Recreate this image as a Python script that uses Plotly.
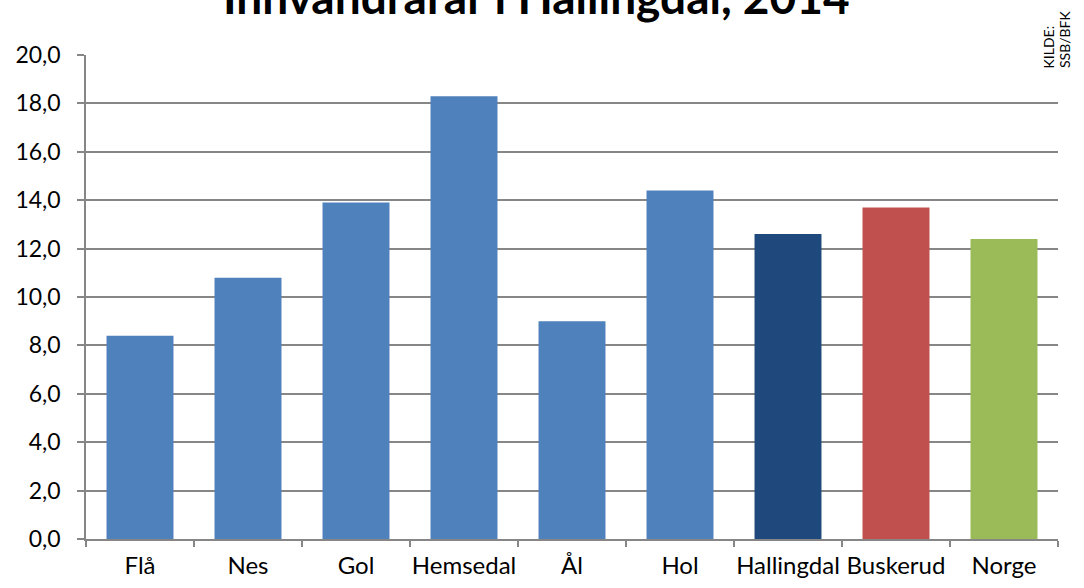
import plotly.graph_objects as go

categories = ["Flå", "Nes", "Gol", "Hemsedal", "Ål", "Hol", "Hallingdal", "Buskerud", "Norge"]
values = [8.4, 10.8, 13.9, 18.3, 9.0, 14.4, 12.6, 13.7, 12.4]
colors = ["#4F81BD"] * 6 + ["#1F497D", "#C0504D", "#9BBB59"]
y_ticks = [0, 2, 4, 6, 8, 10, 12, 14, 16, 18, 20]

FONT = "Lato, 'Open Sans', sans-serif"
GRID = "#868686"

fig = go.Figure(
    go.Bar(x=categories, y=values, marker=dict(color=colors, line=dict(width=0)))
)

fig.update_layout(
    width=1084, height=588,
    margin=dict(l=86, r=26, t=55, b=49, autoexpand=False),
    paper_bgcolor="white", plot_bgcolor="white",
    separators=", ",
    bargap=0.38,
    showlegend=False,
    font=dict(family=FONT, size=22, color="#000000"),
)

fig.update_yaxes(
    range=[0, 20], tickvals=y_ticks, tickformat=".1f",
    showgrid=True, gridcolor=GRID, gridwidth=1.5,
    showline=True, linecolor=GRID, linewidth=1.5,
    ticks="outside", ticklen=7, tickcolor=GRID, tickwidth=1.5,
    ticklabelstandoff=12,
    zeroline=False, fixedrange=True,
    tickfont=dict(family=FONT, size=23),
)
fig.update_xaxes(
    showline=True, linecolor=GRID, linewidth=1.5,
    ticks="outside", tickson="boundaries", ticklen=6, tickcolor=GRID, tickwidth=1.5,
    showgrid=False, fixedrange=True, tickangle=0,
    ticklabelstandoff=4,
    tickfont=dict(family=FONT, size=24),
)

fig.add_annotation(
    text="<b>Innvandrarar i Hallingdal, 2014</b>",
    xref="paper", yref="paper", x=0.463, y=1.060, yanchor="bottom", xanchor="center",
    showarrow=False, font=dict(family=FONT, size=46, color="#000000"),
)
fig.add_annotation(
    text="KILDE:",
    xref="paper", yref="paper", x=0.9907, y=0.969, xanchor="center", yanchor="bottom",
    textangle=-90, showarrow=False,
    font=dict(family=FONT, size=14, color="#000000"),
)
fig.add_annotation(
    text="SSB/BFK",
    xref="paper", yref="paper", x=1.0062, y=0.969, xanchor="center", yanchor="bottom",
    textangle=-90, showarrow=False,
    font=dict(family=FONT, size=14, color="#000000"),
)

fig.write_html(
    "out.html",
    config={"displayModeBar": False},
    post_script="document.body.style.margin='0';",
)
